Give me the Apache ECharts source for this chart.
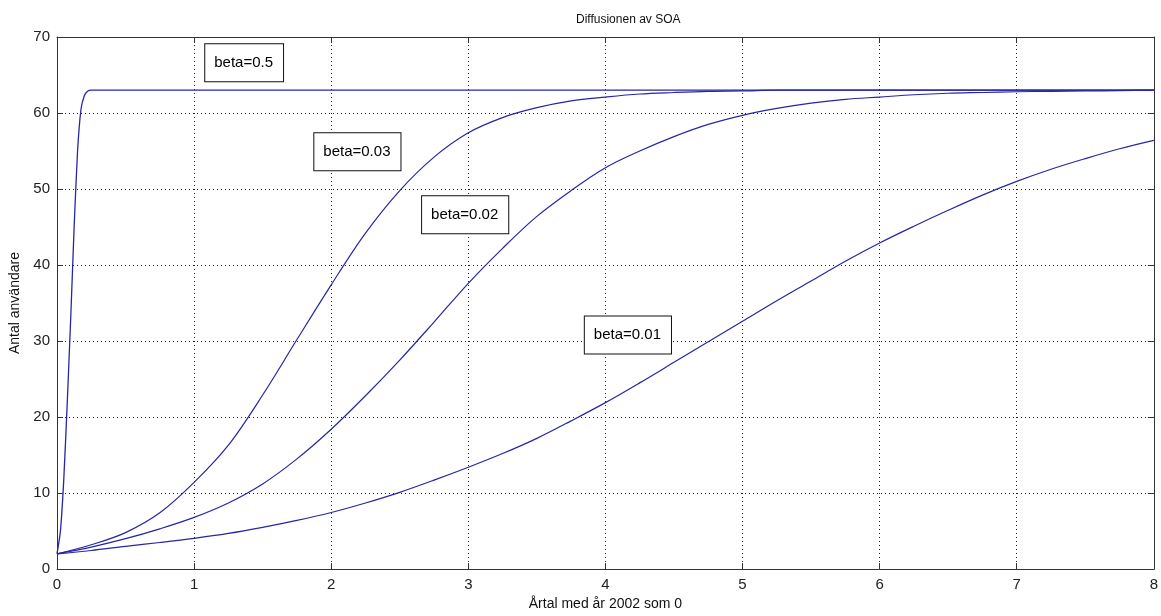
<!DOCTYPE html>
<html>
<head>
<meta charset="utf-8">
<script src="https://cdn.jsdelivr.net/npm/echarts@6/dist/echarts.min.js"></script>
<style>
html,body{margin:0;padding:0;background:#fff;}
#c{width:1161px;height:616px;}
</style>
</head>
<body>
<div id="c"></div>
<script>
// ---- data ----
const titleText = 'Diffusionen av SOA';
const xName = 'Årtal med år 2002 som 0';
const yName = 'Antal användare';

const tCommon = [0,0.25,0.5,0.75,1,1.25,1.5,1.75,2,2.25,2.5,2.75,3,3.25,3.5,3.75,4,4.25,4.5,4.75,5,5.25,5.5,5.75,6,6.25,6.5,6.75,7,7.25,7.5,7.75,8];
const beta001 = [2,2.45,3.0,3.5,4.05,4.7,5.5,6.4,7.45,8.7,10.1,11.7,13.4,15.2,17.2,19.5,21.9,24.5,27.2,29.9,32.6,35.3,37.9,40.5,42.9,45.1,47.2,49.2,51.0,52.6,54.0,55.3,56.4];
const beta002 = [2,2.9,4.0,5.3,6.8,8.7,11.2,14.5,18.4,22.8,27.5,32.5,37.6,42.2,46.4,49.8,52.8,55.0,56.9,58.5,59.7,60.6,61.3,61.8,62.1,62.4,62.6,62.7,62.8,62.85,62.9,62.95,63];
const beta003 = [2,3.2,4.8,7.4,11.4,16.3,22.9,30.2,37.4,44.2,49.8,54.2,57.4,59.4,60.7,61.6,62.1,62.5,62.7,62.85,62.9,63,63,63,63,63,63,63,63,63,63,63,63];
const tFast = [0,0.025,0.05,0.075,0.1,0.125,0.15,0.175,0.2,0.225,0.25,1,8];
const beta05 = [2,5,12,22,33,45,55,60.5,62.3,62.9,63,63,63];

const annoText = ['beta=0.5','beta=0.03','beta=0.02','beta=0.01'];
const annoX = [1.365,2.191,2.977,4.164];
const annoY = [66.6,54.9,46.6,30.8];

const xTicks = [0,1,2,3,4,5,6,7,8];
const yTicks = [0,10,20,30,40,50,60,70];

function pairs(xs, ys){ return xs.map((x,i)=>[x, ys[i]]); }

const chart = echarts.init(document.getElementById('c'), null, {renderer:'canvas'});
const lineColor = '#2626a6';
const axisCol = '#333';
const font = 'Liberation Sans, Arial, sans-serif';

const baseX = {
  type:'value', min:xTicks[0], max:xTicks[xTicks.length-1], interval:1
};
const baseY = {
  type:'value', min:yTicks[0], max:yTicks[yTicks.length-1], interval:10
};

const option = {
  animation:false,
  backgroundColor:'#fff',
  title:{
    text:titleText, left:571, top:9,
    textStyle:{fontFamily:font, fontSize:12, fontWeight:'normal', color:'#111'}
  },
  grid:{left:57, right:5, top:37, bottom:42, containLabel:false},
  xAxis:[
    Object.assign({}, baseX, {
      position:'bottom',
      name:xName, nameLocation:'middle', nameGap:26,
      nameTextStyle:{fontFamily:font, fontSize:14, color:'#111'},
      axisLine:{show:true, onZero:false, lineStyle:{color:axisCol, width:1}},
      axisTick:{show:true, inside:true, length:6, lineStyle:{color:axisCol}},
      axisLabel:{margin:8, fontFamily:font, fontSize:15, color:'#222'},
      splitLine:{show:true, lineStyle:{color:'#222', type:[1,3], width:1}}
    }),
    Object.assign({}, baseX, {
      position:'top',
      axisLine:{show:true, onZero:false, lineStyle:{color:axisCol, width:1}},
      axisTick:{show:true, inside:true, length:6, lineStyle:{color:axisCol}},
      axisLabel:{show:false},
      splitLine:{show:false}
    })
  ],
  yAxis:[
    Object.assign({}, baseY, {
      position:'left',
      name:yName, nameLocation:'middle', nameGap:33, nameRotate:90,
      nameTextStyle:{fontFamily:font, fontSize:14, color:'#111'},
      axisLine:{show:true, onZero:false, lineStyle:{color:axisCol, width:1}},
      axisTick:{show:true, inside:true, length:6, lineStyle:{color:axisCol}},
      axisLabel:{margin:7, fontFamily:font, fontSize:15, color:'#222'},
      splitLine:{show:true, lineStyle:{color:'#222', type:[1,3], width:1}}
    }),
    Object.assign({}, baseY, {
      position:'right',
      axisLine:{show:true, onZero:false, lineStyle:{color:axisCol, width:1}},
      axisTick:{show:true, inside:true, length:6, lineStyle:{color:axisCol}},
      axisLabel:{show:false},
      splitLine:{show:false}
    })
  ],
  series:[
    {type:'line', name:'beta=0.5', data:pairs(tFast, beta05), showSymbol:false, smooth:0.2,
      lineStyle:{color:lineColor, width:1.3}, z:3},
    {type:'line', name:'beta=0.03', data:pairs(tCommon, beta003), showSymbol:false, smooth:0.35,
      lineStyle:{color:lineColor, width:1.2}, z:3},
    {type:'line', name:'beta=0.02', data:pairs(tCommon, beta002), showSymbol:false, smooth:0.35,
      lineStyle:{color:lineColor, width:1.2}, z:3},
    {type:'line', name:'beta=0.01', data:pairs(tCommon, beta001), showSymbol:false, smooth:0.35,
      lineStyle:{color:lineColor, width:1.2}, z:3},
    {type:'scatter', name:'annotations', symbolSize:0, silent:true, z:5,
      itemStyle:{opacity:1},
      data:annoText.map((t,i)=>({value:[annoX[i], annoY[i]], name:t})),
      label:{show:true, position:'inside', formatter:p=>p.name,
        fontFamily:font, fontSize:15, color:'#000', opacity:1,
        backgroundColor:'#fff', borderColor:'#111', borderWidth:1,
        padding:[11,10,11,9]}
    }
  ]
};
chart.setOption(option);
</script>
</body>
</html>
